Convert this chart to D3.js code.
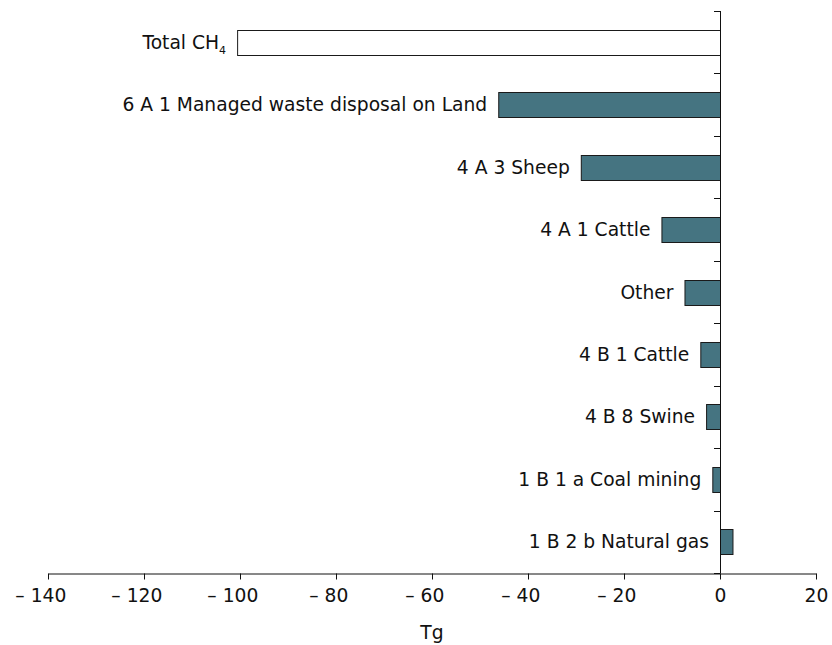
<!DOCTYPE html>
<html><head><meta charset="utf-8">
<script src="https://cdn.jsdelivr.net/npm/d3@7"></script>
<style>body{margin:0;background:#fff}svg{display:block}text{font-family:"DejaVu Sans",Verdana,sans-serif;fill:#111}</style>
</head><body>
<svg id="c" width="832" height="645"></svg>
<script>
const categories = ["Total CH4","6 A 1 Managed waste disposal on Land","4 A 3 Sheep","4 A 1 Cattle","Other","4 B 1 Cattle","4 B 8 Swine","1 B 1 a Coal mining","1 B 2 b Natural gas"];
const values = [-100.6,-46.2,-29,-12.2,-7.4,-4.1,-2.9,-1.6,2.6];
const tickValues = [-140,-120,-100,-80,-60,-40,-20,0,20];
const axisTitle = "Tg";

const svg = d3.select("#c");
const x = d3.scaleLinear().domain([-140,20]).range([48,816]);
const y = d3.scaleBand().domain(categories).range([11,573]).paddingInner(0.6).paddingOuter(0.3);
const fill = "#457481";
const FS = 18.7;

// bars
svg.selectAll("rect.bar").data(categories).enter().append("rect")
  .attr("x",(d,i)=>x(Math.min(0,values[i]))+0.5)
  .attr("y",d=>Math.round(y(d))+0.5)
  .attr("width",(d,i)=>Math.abs(x(values[i])-x(0)))
  .attr("height",Math.round(y.bandwidth()))
  .attr("fill",(d,i)=>i===0?"#fff":fill)
  .attr("stroke","#1a1a1a").attr("stroke-width",1);

// labels
const lab = svg.selectAll("text.lab").data(categories).enter().append("text")
  .attr("x",(d,i)=>x(Math.min(0,values[i]))-11)
  .attr("y",d=>y(d)+y.bandwidth()/2)
  .attr("dy","0.35em").attr("text-anchor","end").attr("font-size",FS);
lab.each(function(d){
  const t=d3.select(this);
  if(d==="Total CH4"){
    t.append("tspan").text("Total CH");
    t.append("tspan").attr("font-size",11).attr("dy",5).text("4");
  } else t.text(d);
});

// y axis line and ticks at band boundaries
const bounds = d3.range(categories.length+1).map(i=>11+i*(562/categories.length));
svg.append("line").attr("x1",x(0)+0.5).attr("x2",x(0)+0.5).attr("y1",11).attr("y2",573).attr("stroke","#111");
svg.selectAll("line.yt").data(bounds).enter().append("line")
  .attr("x1",x(0)-6).attr("x2",x(0)+0.5).attr("y1",d=>Math.round(d)+0.5).attr("y2",d=>Math.round(d)+0.5).attr("stroke","#111");

// x axis: number centred on tick, dash hanging to the left
const xa = svg.append("g").attr("transform","translate(0,573.5)")
  .call(d3.axisBottom(x).tickValues(tickValues).tickSize(6).tickSizeOuter(0)
    .tickFormat(d=>String(Math.abs(d))));
xa.select(".domain").attr("stroke","#111");
xa.selectAll(".tick line").attr("stroke","#111");
xa.selectAll(".tick text").attr("font-size",FS).attr("font-family","DejaVu Sans, Verdana, sans-serif").attr("fill","#111").attr("y",28).attr("dy",0);
xa.selectAll(".tick").each(function(d){
  if(d>=0) return;
  const g=d3.select(this);
  const w=g.select("text").node().getComputedTextLength();
  g.append("text").attr("x",-w/2-6).attr("y",28).attr("text-anchor","end")
    .attr("font-size",FS).attr("fill","#111").text("\u2013");
});

svg.append("text").attr("x",432).attr("y",639).attr("text-anchor","middle").attr("font-size",FS).text(axisTitle);
</script>
</body></html>
